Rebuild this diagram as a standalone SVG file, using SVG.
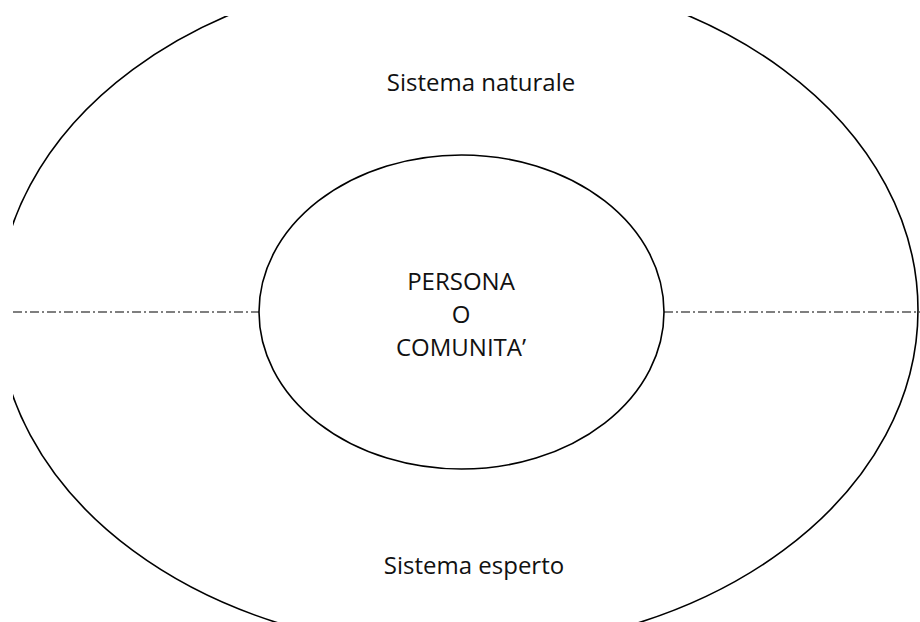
<svg xmlns="http://www.w3.org/2000/svg" width="920" height="622" viewBox="0 0 920 622">
<style>
.e{fill:none;stroke:#000;stroke-width:1.6}
.d{stroke:#555;stroke-width:1.4;stroke-dasharray:9 3 2 3;fill:none}
.t{font-family:"Open Sans","Noto Sans",sans-serif;font-size:24px;fill:#111;text-anchor:middle}
</style>
<defs><clipPath id="c"><rect x="13" y="16" width="907" height="606"/></clipPath></defs>
<rect width="920" height="622" fill="#fff"/>
<g id="outer"><ellipse class="e" cx="458" cy="310" rx="460" ry="340" clip-path="url(#c)"/>
<text class="t" x="481" y="91">Sistema naturale</text>
<text class="t" x="474" y="574">Sistema esperto</text></g>
<g id="connectors"><line class="d" x1="13" y1="312" x2="259" y2="312"/><line class="d" x1="664" y1="312" x2="920" y2="312"/></g>
<g id="inner"><ellipse class="e" cx="461.5" cy="312" rx="202.5" ry="157"/>
<text class="t" x="461" y="290">PERSONA</text>
<text class="t" x="461" y="323">O</text>
<text class="t" x="461" y="356">COMUNITA’</text></g>
</svg>
